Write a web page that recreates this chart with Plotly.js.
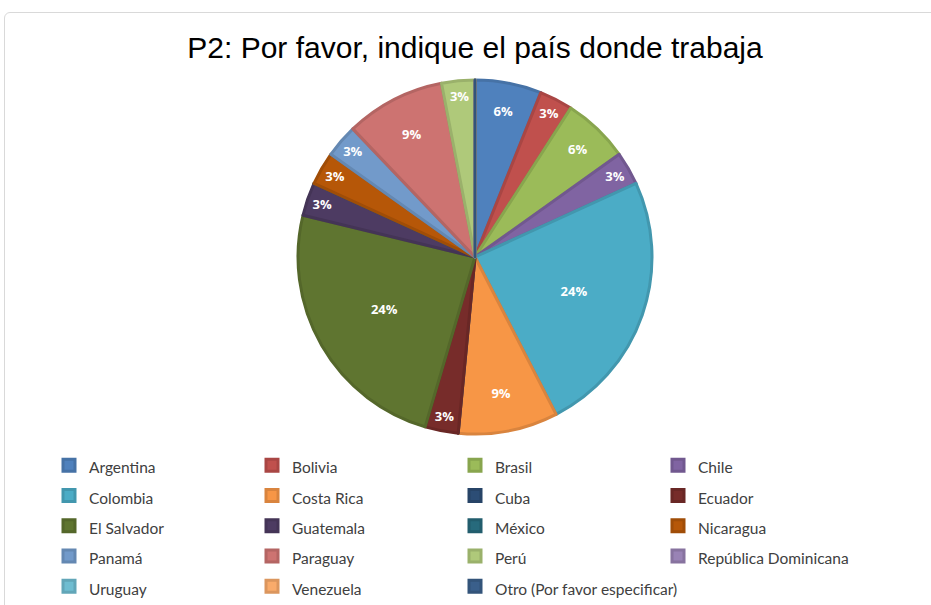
<!DOCTYPE html>
<html>
<head>
<meta charset="utf-8">
<script src="https://cdn.plot.ly/plotly-3.0.1.min.js"></script>
<style>
html,body{margin:0;padding:0;background:#fff;overflow:hidden;}
#frame{position:absolute;left:4px;top:12px;width:960px;height:640px;border:1.5px solid #d9d9d9;border-radius:6px;}
#chart{position:absolute;left:0;top:0;width:931px;height:605px;}
</style>
</head>
<body>
<div id="frame"></div>
<div id="chart"></div>
<script>
const countries = ['Argentina','Bolivia','Brasil','Chile','Colombia','Costa Rica','Cuba','Ecuador','El Salvador','Guatemala','México','Nicaragua','Panamá','Paraguay','Perú','República Dominicana','Uruguay','Venezuela','Otro (Por favor especificar)'];
const responses = [2,1,2,1,8,3,0,1,8,1,0,1,1,3,1,0,0,0,0];
const sliceColors = ['#4F81BD','#C0504D','#9BBB59','#8064A2','#4BACC6','#F79646','#2C4D75','#772C2A','#5F7530','#4D3B62','#276A7C','#B65708','#729ACA','#CD7371','#AFC97A','#9983B5','#6FBDD1','#F9AB6B','#3A5F8B'];
const titleText = 'P2: Por favor, indique el país donde trabaja';

function darker(hex, f){
  const n = parseInt(hex.slice(1),16);
  const r = Math.round(((n>>16)&255)*f), g = Math.round(((n>>8)&255)*f), b = Math.round((n&255)*f);
  return 'rgb('+r+','+g+','+b+')';
}
const lineColors = sliceColors.map(c => darker(c, 0.88));
const legendLabels = countries.map(c => '<span style="font-size:15.5px">' + c + '</span>');

const trace = {
  type: 'pie',
  labels: legendLabels,
  values: responses,
  sort: false,
  direction: 'clockwise',
  rotation: 0,
  marker: {colors: sliceColors, line: {color: lineColors, width: 3}},
  texttemplate: '%{percent:.0%}',
  textposition: 'inside',
  insidetextorientation: 'horizontal',
  textfont: {family: 'Open Sans', size: 13, color: '#ffffff', weight: 'bold'},
  hoverinfo: 'label+value+percent',
  domain: {x: [298/931, 652/931], y: [1-434/605, 1-80/605]}
};

const layout = {
  width: 931, height: 605,
  margin: {l: 0, r: 0, t: 0, b: 0, autoexpand: false},
  paper_bgcolor: 'rgba(0,0,0,0)',
  plot_bgcolor: 'rgba(0,0,0,0)',
  title: {text: titleText, font: {family: 'Liberation Sans, Arial', size: 30, color: '#000'}, x: 475/931, xanchor: 'center', y: 1-47/605, yanchor: 'middle'},
  showlegend: true,
  legend: {
    orientation: 'h', x: 49/931, xanchor: 'left', y: 1-445/605, yanchor: 'top',
    entrywidth: 158, entrywidthmode: 'pixels',
    font: {family: 'Lato, Open Sans, sans-serif', size: 21, color: '#404040'},
    traceorder: 'normal'
  }
};

Plotly.newPlot('chart', [trace], layout, {displayModeBar: false, staticPlot: true});
</script>
</body>
</html>
